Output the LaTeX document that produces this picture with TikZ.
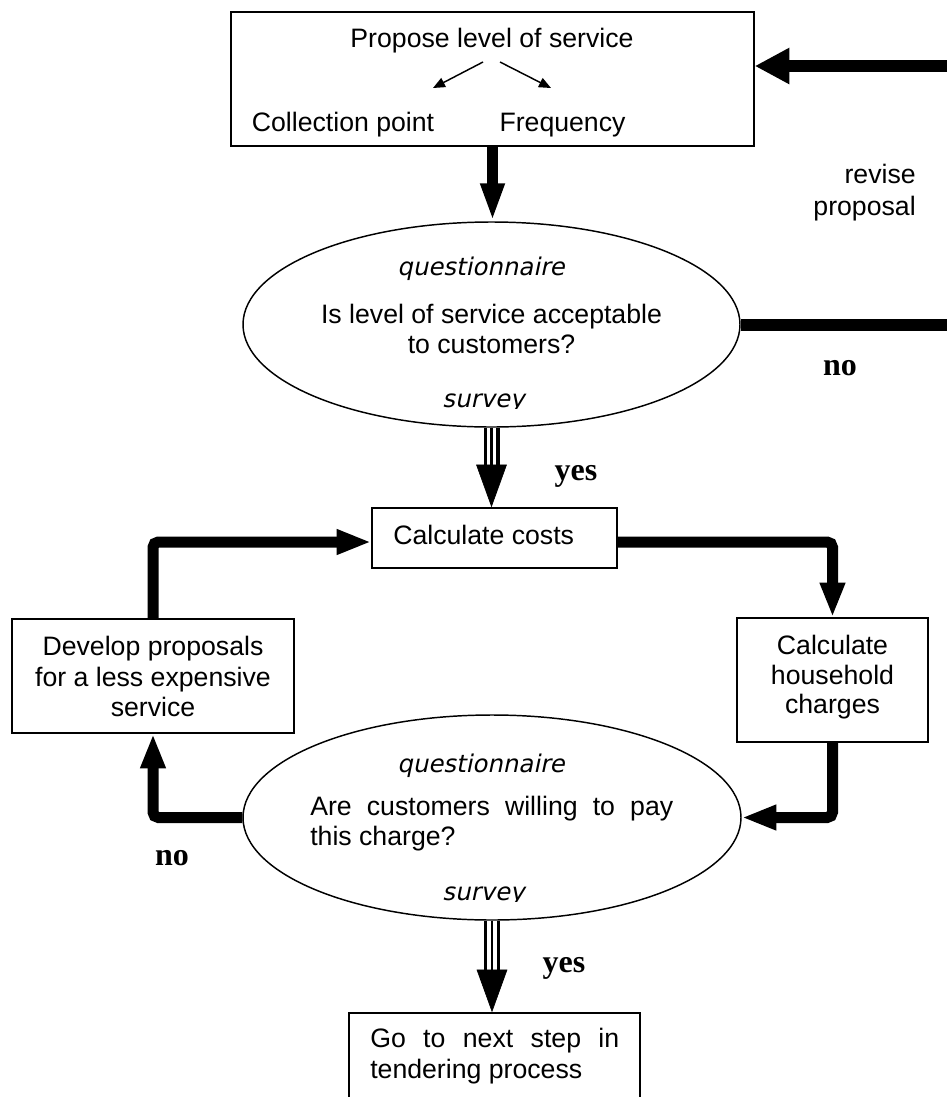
\documentclass[tikz,border=0pt]{standalone}
\usepackage{fontspec}
\setmainfont{Liberation Sans}
\newfontfamily\qfont{DejaVu Sans}[FakeSlant=0.21]
\newfontfamily\yfont{Liberation Serif}
\usetikzlibrary{arrows.meta,shapes.geometric}
\newcommand\triplearr[2]{%
  \draw[line width=12pt,shorten >=31pt] (#1) -- (#2);
  \draw[white,line width=7pt,shorten >=31pt] (#1) -- (#2);
  \draw[line width=2pt,shorten >=31pt] (#1) -- (#2);
  \draw[line width=0.5pt,-{Triangle[length=32pt,width=23pt]}] (#1) -- (#2);}
\begin{document}
\begin{tikzpicture}[x=0.75pt,y=-0.75pt,
  box/.style={draw,line width=1.1pt,rectangle,inner sep=0pt},
  oval/.style={draw,line width=1.1pt,ellipse,inner sep=0pt},
  txt/.style={inner sep=0pt,anchor=base,font=\fontsize{20}{24}\selectfont},
  qtxt/.style={inner sep=0pt,anchor=base,font=\qfont\fontsize{18.3}{22}\selectfont},
  ans/.style={inner sep=0pt,anchor=base,font=\yfont\bfseries\fontsize{24}{28}\selectfont},
  flow/.style={line width=8.25pt,rounded corners=4pt,-{Triangle[length=26pt,width=17.5pt]}},
  bigflow/.style={line width=9pt,-{Triangle[length=26pt,width=25.5pt]}},
  downflow/.style={line width=8pt,-{Triangle[length=28.5pt,width=16.5pt]}},
  thin/.style={line width=1.1pt,-{Triangle[length=9pt,width=7.5pt]}},
  plainflow/.style={line width=9pt}]
\useasboundingbox (0,0) rectangle (947,1097);
\clip (0,0) rectangle (947,1097);
\fill[white] (0,0) rectangle (947,1097);

% boxes and ellipses
\node[box,minimum width=392.25pt,minimum height=100.5pt] (top) at (492.5,79) {};
\node[oval,minimum width=372.75pt,minimum height=153.75pt] (e1) at (491.5,324.5) {};
\node[box,minimum width=183.75pt,minimum height=45pt] (cc) at (494.5,538) {};
\node[box,minimum width=211.5pt,minimum height=85.5pt] (dev) at (153,676) {};
\node[box,minimum width=143.25pt,minimum height=93pt] (hh) at (832.5,680) {};
\node[oval,minimum width=373.5pt,minimum height=153.75pt] (e2) at (492,817.5) {};
\node[box,minimum width=218.25pt,minimum height=80.25pt] (bot) at (494.5,1066.5) {};

% texts in top box
\node[txt] (prop) at (492,47) {Propose level of service};
\node[txt] (colp) at (343,131) {Collection point};
\node[txt] (freq) at (562.5,131) {Frequency};
\coordinate (s1a) at (483,62); \coordinate (s1b) at (433,88);
\coordinate (s2a) at (500,62); \coordinate (s2b) at (551,88);
\draw[thin] (s1a) -- (s1b);
\draw[thin] (s2a) -- (s2b);

% revise proposal
\node[txt,anchor=base east] (rev1) at (916,183) {revise};
\node[txt,anchor=base east] (rev2) at (916,215) {proposal};

% ellipse 1 texts
\node[qtxt] (q1) at (481,275) {questionnaire};
\node[txt] (is1) at (491.5,323) {Is level of service acceptable};
\node[txt] (is2) at (491.5,353) {to customers?};
\begin{scope}
  \clip (400,380) rectangle (580,408);
  \node[qtxt] (sv1) at (483.5,407) {survey};
\end{scope}

% calculate costs
\node[txt,anchor=base west] (cct) at (393,544) {Calculate costs};

% develop
\node[txt] (d1) at (153,655) {Develop proposals};
\node[txt] (d2) at (153,686) {for a less expensive};
\node[txt] (d3) at (153,716) {service};

% household
\node[txt] (h1) at (832.5,654) {Calculate};
\node[txt] (h2) at (832.5,684) {household};
\node[txt] (h3) at (832.5,713) {charges};

% ellipse 2 texts
\node[qtxt] (q2) at (481,772) {questionnaire};
\node[txt,anchor=base west] (a1) at (310,815) {\hbox to 272.25pt{Are\hfill customers\hfill willing\hfill to\hfill pay}};
\node[txt,anchor=base west] (a2) at (310,845) {this charge?};
\begin{scope}
  \clip (400,870) rectangle (580,901);
  \node[qtxt] (sv2) at (483.5,900) {survey};
\end{scope}

% bottom box text
\node[txt,anchor=base west] (g1) at (370,1047) {\hbox to 186.75pt{Go\hfill to\hfill next\hfill step\hfill in}};
\node[txt,anchor=base west] (g2) at (370,1078) {tendering process};

% answers
\node[ans] (no1) at (840,375) {no};
\node[ans] (yes1) at (576,480) {yes};
\node[ans] (no2) at (172,865) {no};
\node[ans] (yes2) at (564,972) {yes};

% connectors
\coordinate (rin) at (947,66);
\draw[bigflow] (rin) -- (rin -| top.east);
\coordinate (rout) at (947,324.5);
\draw[plainflow] (e1.east) -- (rout);
\draw[downflow] (top.south) -- (top.south |- e1.north);
\triplearr{e1.south}{e1.south |- cc.north}
\draw[flow] (dev.north) |- ([yshift=-3pt]cc.west);
\draw[flow] ([yshift=-3pt]cc.east) -| (hh.north);
\draw[flow] (hh.south) |- (e2.east);
\draw[flow] (e2.west) -| (dev.south);
\triplearr{e2.south}{e2.south |- bot.north}
\end{tikzpicture}
\end{document}
